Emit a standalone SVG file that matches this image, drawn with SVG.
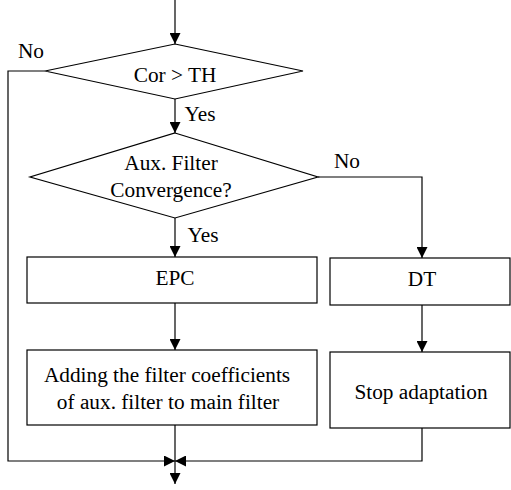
<svg xmlns="http://www.w3.org/2000/svg" width="511" height="490" viewBox="0 0 511 490">
<defs>
<marker id="ah" viewBox="0 0 10 10" refX="10" refY="5" markerWidth="11" markerHeight="11" markerUnits="userSpaceOnUse" orient="auto">
<path d="M0,0 L10,5 L0,10 Z" fill="#000"/>
</marker>
<style>
.s{fill:#fff;stroke:#000;stroke-width:1.2}
.c{fill:none;stroke:#000;stroke-width:1.2}
text{font-family:"Liberation Serif","Times New Roman",serif;font-size:21.3px;fill:#000}
.m{text-anchor:middle}
</style>
</defs>
<g id="connectors">
<path class="c" d="M175,0 V44" marker-end="url(#ah)"/>
<path class="c" d="M175,99 V133" marker-end="url(#ah)"/>
<path class="c" d="M175,218 V257" marker-end="url(#ah)"/>
<path class="c" d="M318,177 H422 V258" marker-end="url(#ah)"/>
<path class="c" d="M175,303 V350" marker-end="url(#ah)"/>
<path class="c" d="M422,305 V352" marker-end="url(#ah)"/>
<path class="c" d="M45,71 H8 V461 H175" marker-end="url(#ah)"/>
<path class="c" d="M422,428 V461 H175" marker-end="url(#ah)"/>
<path class="c" d="M175,425 V461 V484" marker-end="url(#ah)"/>
<text x="31" y="58" class="m">No</text>
<text x="200" y="121" class="m">Yes</text>
<text x="347" y="168" class="m">No</text>
<text x="203" y="242" class="m">Yes</text>
</g>
<g id="cor">
<polygon class="s" points="175,44 303,71 175,99 45,71"/>
<text x="175" y="82" class="m">Cor &gt; TH</text>
</g>
<g id="aux">
<polygon class="s" points="175,133 318,177 175,218 30,177"/>
<text x="171" y="170" class="m">Aux. Filter</text>
<text x="171" y="197" class="m">Convergence?</text>
</g>
<g id="epc">
<rect class="s" x="27" y="257" width="290" height="46"/>
<text x="175" y="285" class="m">EPC</text>
</g>
<g id="dt">
<rect class="s" x="330" y="258" width="180" height="47"/>
<text x="422" y="286" class="m">DT</text>
</g>
<g id="adding">
<rect class="s" x="27" y="350" width="290" height="75"/>
<text x="167" y="382" class="m">Adding the filter coefficients</text>
<text x="168" y="409" class="m">of aux. filter to main filter</text>
</g>
<g id="stop">
<rect class="s" x="330" y="352" width="180" height="76"/>
<text x="421" y="399" class="m">Stop adaptation</text>
</g>
</svg>
